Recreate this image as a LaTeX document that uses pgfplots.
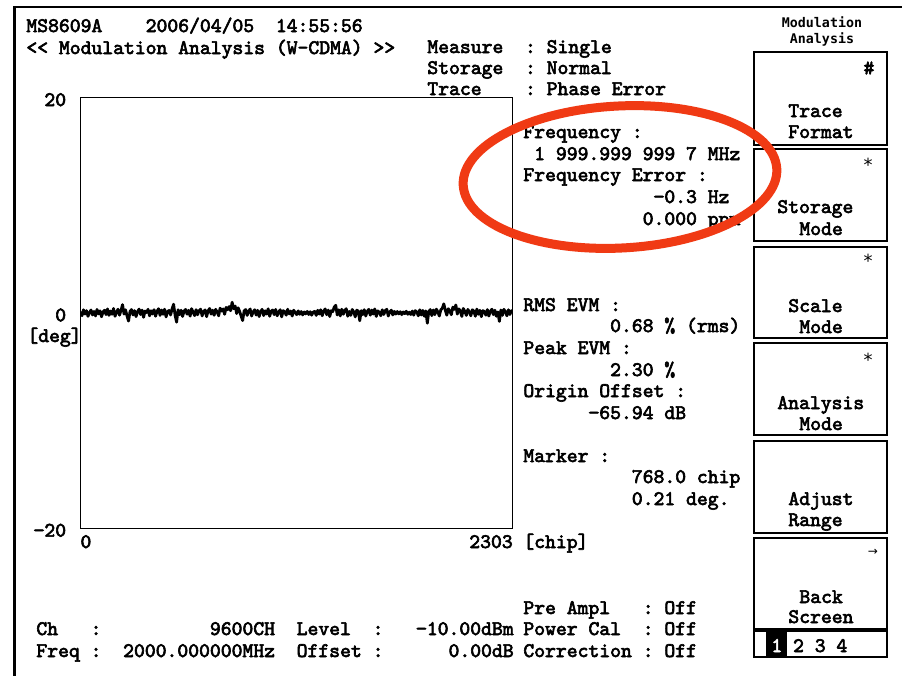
\documentclass[border=0pt]{standalone}
\usepackage{pgfplots}
\pgfplotsset{compat=1.18}
\usepackage{fontspec}
\newfontfamily\scr{Latin Modern Mono}[FakeBold=3]
\newfontfamily\hdr{DejaVu Sans Mono}[UprightFont={* Bold}]
\newfontfamily\dv{DejaVu Sans}
\definecolor{ann}{RGB}{240,58,20}
\newcommand\fs{\scr\fontsize{10.33pt}{11pt}\selectfont}
\begin{document}
\begin{tikzpicture}
\useasboundingbox (0,0) rectangle (451pt,-338pt);
\fill[white] (0,0) rectangle (451pt,-338pt);
\begin{axis}[
  at={(40.25pt,-264.15pt)}, anchor=south west,
  scale only axis, width=216.1pt, height=215.3pt,
  xmin=0, xmax=2303, ymin=-20, ymax=20,
  axis line style={line width=0.75pt},
  xtick={0,2303}, ytick={-20,0,20},
  yticklabels={−20,0,20},
  xticklabel={\ifnum\ticknum=0 \makebox[0pt][l]{0}\else\makebox[0pt][r]{2303}\fi},
  major tick length=0pt, tick style={draw=none},
  /pgf/number format/assume math mode=true,
  ticklabel style={font=\fs},
  xticklabel style={anchor=base, yshift=-9.85pt},
  yticklabel style={anchor=east, inner sep=0pt, xshift=-7pt, yshift=-1pt},
]
\addplot[black, line width=1.4pt, line join=round] coordinates {
(0,0.12)(8,-0.25)(16,0.30)(24,-0.10)(32,0.22)(40,-0.31)(48,0.05)(56,0.28)(64,-0.18)(72,0.15)
(80,-0.27)(88,0.33)(96,-0.08)(104,0.20)(112,-0.35)(120,0.10)(128,0.26)(136,-0.15)(144,0.38)(152,-0.22)
(160,0.18)(168,-0.12)(176,0.42)(184,-0.30)(192,0.08)(200,0.35)(208,-0.20)(216,0.25)(224,0.78)(232,-0.10)
(240,0.30)(248,-0.28)(256,-0.75)(264,0.15)(272,0.32)(280,-0.18)(288,0.22)(296,-0.33)(304,0.12)(312,0.36)
(320,-0.14)(328,0.27)(336,-0.40)(344,0.18)(352,0.05)(360,0.34)(368,-0.26)(376,0.21)(384,-0.09)(392,0.31)
(400,-0.30)(408,0.16)(416,0.40)(424,-0.22)(432,0.28)(440,-0.12)(448,0.35)(456,-0.36)(464,0.14)(472,0.24)
(480,-0.18)(488,0.38)(496,0.82)(504,-0.20)(512,-0.85)(520,0.30)(528,-0.15)(536,0.26)(544,-0.32)(552,0.19)
(560,0.33)(568,-0.11)(576,0.25)(584,-0.29)(592,0.40)(600,0.08)(608,-0.24)(616,0.31)(624,-0.16)(632,0.22)
(640,0.36)(648,-0.27)(656,0.13)(664,0.29)(672,-0.34)(680,0.20)(688,0.42)(696,-0.10)(704,0.26)(712,-0.21)
(720,0.34)(728,0.10)(736,-0.26)(744,0.45)(752,0.18)(760,0.38)(768,-0.12)(776,0.52)(784,0.30)(792,0.60)
(800,0.21)(808,1.00)(816,0.40)(824,0.65)(832,-0.05)(840,0.48)(848,0.15)(856,-0.30)(864,-0.70)(872,0.20)
(880,0.32)(888,-0.22)(896,0.18)(904,0.37)(912,-0.28)(920,0.12)(928,0.30)(936,-0.19)(944,0.25)(952,-0.33)
(960,0.15)(968,0.34)(976,-0.24)(984,0.21)(992,-0.10)(1000,0.39)(1008,-0.30)(1016,0.17)(1024,0.28)(1032,-0.15)
(1040,0.33)(1048,-0.26)(1056,0.09)(1064,0.30)(1072,-0.36)(1080,0.22)(1088,0.12)(1096,-0.20)(1104,0.35)(1112,-0.08)
(1120,0.18)(1128,-0.28)(1136,0.26)(1144,0.05)(1152,-0.15)(1160,0.20)(1168,-0.12)(1176,0.14)(1184,-0.18)(1192,0.10)
(1200,-0.08)(1208,0.15)(1216,-0.14)(1224,0.12)(1232,-0.20)(1240,0.08)(1248,0.16)(1256,-0.22)(1264,0.25)(1272,-0.10)
(1280,0.30)(1288,-0.25)(1296,0.18)(1304,0.38)(1312,-0.16)(1320,0.27)(1328,-0.33)(1336,0.22)(1344,0.12)(1352,0.55)
(1360,0.72)(1368,-0.18)(1376,0.30)(1384,-0.27)(1392,0.35)(1400,-0.12)(1408,0.24)(1416,0.40)(1424,-0.30)(1432,0.15)
(1440,-0.22)(1448,0.33)(1456,0.10)(1464,-0.36)(1472,0.26)(1480,0.18)(1488,-0.72)(1496,0.22)(1504,-0.15)(1512,0.31)
(1520,-0.28)(1528,0.16)(1536,0.34)(1544,-0.20)(1552,0.27)(1560,-0.10)(1568,0.38)(1576,-0.32)(1584,0.20)(1592,0.08)
(1600,-0.25)(1608,0.30)(1616,-0.14)(1624,0.22)(1632,0.35)(1640,-0.28)(1648,0.12)(1656,0.26)(1664,-0.18)(1672,0.15)
(1680,-0.10)(1688,0.14)(1696,-0.08)(1704,0.12)(1712,-0.15)(1720,0.10)(1728,-0.06)(1736,0.16)(1744,-0.12)(1752,0.08)
(1760,-0.14)(1768,0.18)(1776,-0.20)(1784,0.22)(1792,0.10)(1800,-0.26)(1808,0.30)(1816,-0.18)(1824,0.24)(1832,-0.30)
(1840,0.20)(1848,-0.95)(1856,0.15)(1864,0.32)(1872,-0.24)(1880,0.28)(1888,-0.15)(1896,0.36)(1904,0.12)(1912,-0.28)
(1920,0.30)(1928,0.45)(1936,0.85)(1944,0.25)(1952,-0.20)(1960,0.40)(1968,0.18)(1976,-0.16)(1984,0.55)(1992,0.34)
(2000,0.75)(2008,-0.10)(2016,0.38)(2024,0.20)(2032,-0.32)(2040,0.42)(2048,0.15)(2056,-0.22)(2064,0.33)(2072,0.10)
(2080,-0.26)(2088,0.30)(2096,0.18)(2104,-0.30)(2112,0.36)(2120,-0.12)(2128,0.25)(2136,-0.34)(2144,0.22)(2152,0.14)
(2160,-0.20)(2168,0.32)(2176,-0.28)(2184,0.17)(2192,0.35)(2200,-0.15)(2208,0.26)(2216,-0.30)(2224,0.10)(2232,-0.78)
(2240,0.28)(2248,-0.22)(2256,0.34)(2264,0.12)(2272,-0.26)(2280,0.30)(2288,-0.14)(2296,0.22)(2303,0.05)
};
\end{axis}
\begin{scope}[x=0.5pt,y=-0.5pt]
  % outer frame
  \draw[line width=1.5pt] (14.5,6) -- (14.5,676);
  \draw[line width=1pt] (13,6.5) -- (902,6.5);
  \tikzset{t/.style={anchor=base west, inner sep=0pt, font=\fs}}
  % header
  \node[t] at (26,32) {MS8609A~~~~2006/04/05~~14:55:56};
  \node[t] at (26,54) {<{}<~Modulation~Analysis~(W-CDMA)~>{}>};
  \node[t] at (427,53) {Measure~~:~Single};
  \node[t] at (427,74) {Storage~~:~Normal};
  \node[t] at (427,95) {Trace~~~~:~Phase~Error};
  % right info column
  \node[t] at (523,138) {Frequency~:};
  \node[t] at (523,160) {~1~999.999~999~7~MHz};
  \node[t] at (523,181) {Frequency~Error~:};
  \node[t] at (523,203) {~~~~~~~~~~~~−0.3~Hz};
  \node[t] at (523,225) {~~~~~~~~~~~0.000~ppm};
  \node[t] at (523,311) {RMS~EVM~:};
  \node[t] at (523,332) {~~~~~~~~0.68~\%~(rms)};
  \node[t] at (523,354) {Peak~EVM~:};
  \node[t] at (523,376) {~~~~~~~~2.30~\%};
  \node[t] at (523,397) {Origin~Offset~:};
  \node[t] at (523,419) {~~~~~~−65.94~dB};
  \node[t] at (523,462) {Marker~:};
  \node[t] at (523,483) {~~~~~~~~~~768.0~chip};
  \node[t] at (523,505) {~~~~~~~~~~0.21~deg.};
  \node[t] at (523,548) {[chip]};
  \node[t] at (27,342) {[deg]};
  % bottom
  \node[t] at (523,614) {Pre~Ampl~~~:~Off};
  \node[t] at (523,635) {Power~Cal~~:~Off};
  \node[t] at (523,657) {Correction~:~Off};
  \node[t] at (36,635) {Ch~~~:~~~~~~~~~~9600CH~~Level~~:~~~−10.00dBm};
  \node[t] at (36,657) {Freq~:~~2000.000000MHz~~Offset~:~~~~~~0.00dB};
  % soft key panel
  \node[anchor=base, inner sep=0pt, font=\hdr\fontsize{6.65pt}{7pt}\selectfont] at (822,27) {Modulation};
  \node[anchor=base, inner sep=0pt, font=\hdr\fontsize{6.65pt}{7pt}\selectfont] at (822,43) {Analysis};
  \foreach \ya/\yb in {52/145,149/241,247/338,343/435,441/533,538/630}{
    \draw[line width=1.25pt] (754,\ya) rectangle (887,\yb);
  }
  \draw[line width=2pt] (754,630) -- (887,630);
  \draw[line width=0.6pt] (754,630) rectangle (887,657);
  \fill[black] (766,631) rectangle (787,656);
  \node[t, text=white] at (771,652) {1};
  \node[t] at (792.7,652) {2~3~4};
  \node[t] at (788,117) {Trace};
  \node[t] at (788,138) {Format};
  \node[t] at (777,213) {Storage};
  \node[t] at (799,235) {Mode};
  \node[t] at (788,312) {Scale};
  \node[t] at (799,333) {Mode};
  \node[t] at (777,409) {Analysis};
  \node[t] at (799,430) {Mode};
  \node[t] at (788,505) {Adjust};
  \node[t] at (788,526) {Range};
  \node[t] at (799,603) {Back};
  \node[t] at (788,623) {Screen};
  \node[inner sep=0pt, font=\fs] at (869,68) {\#};
  \node[inner sep=0pt, font=\dv\fontsize{9pt}{10pt}\selectfont] at (868,165) {*};
  \node[inner sep=0pt, font=\dv\fontsize{9pt}{10pt}\selectfont] at (868,261) {*};
  \node[inner sep=0pt, font=\dv\fontsize{9pt}{10pt}\selectfont] at (868,360) {*};
  \node[inner sep=0pt, font=\dv\fontsize{6pt}{7pt}\selectfont] at (873,552) {→};
\end{scope}
% annotation ellipse
\draw[ann, line width=4.5pt, rotate around={3:(310pt,-88.5pt)}] (310pt,-88.5pt) ellipse [x radius=78.5pt, y radius=35.5pt];
\end{tikzpicture}
\end{document}
